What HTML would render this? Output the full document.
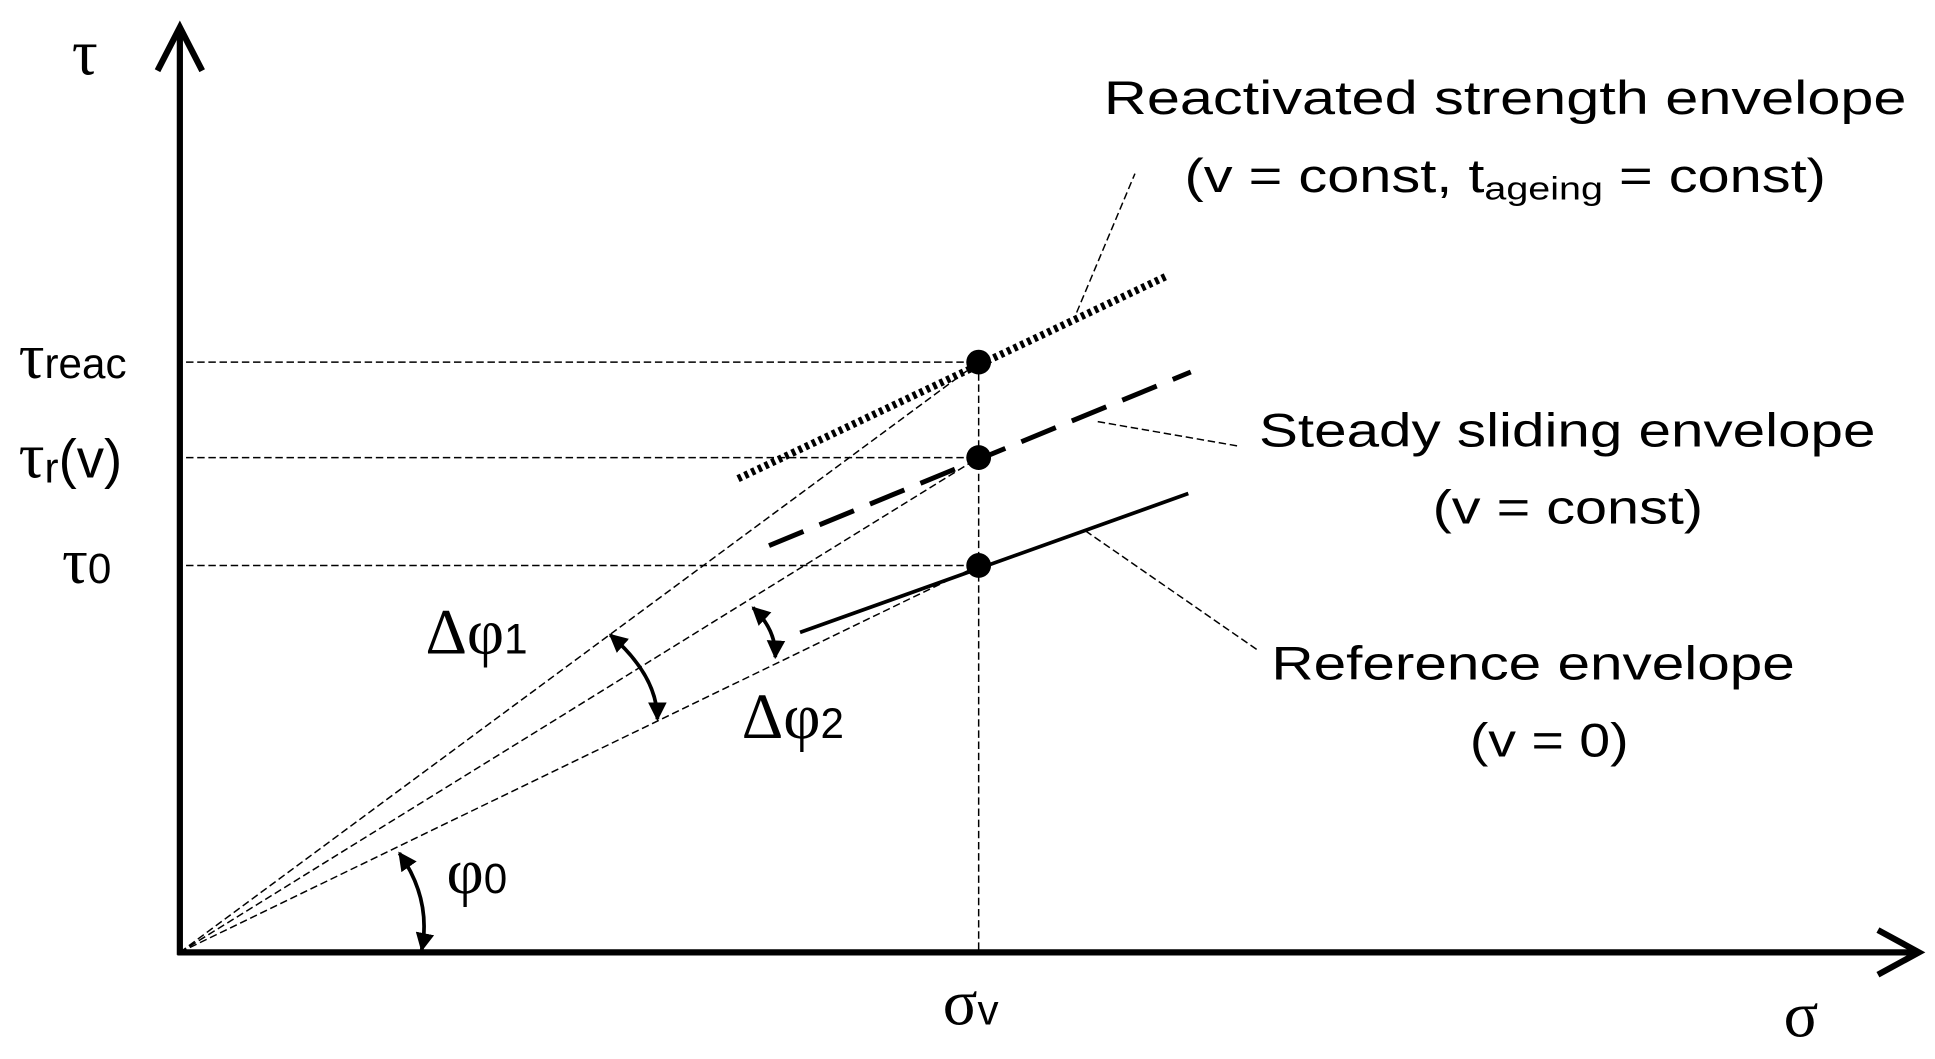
<!DOCTYPE html>
<html><head><meta charset="utf-8"><style>html,body{margin:0;padding:0;background:#fff}svg{display:block}</style></head>
<body>
<svg width="1935" height="1059" viewBox="0 0 1560 854" preserveAspectRatio="none" xmlns="http://www.w3.org/2000/svg" font-family="Liberation Sans, sans-serif">
<defs>
<marker id="ah" viewBox="0 0 10 10" refX="9" refY="5" markerWidth="5" markerHeight="5" orient="auto-start-reverse"><path d="M0,0 L10,5 L0,10 z" fill="#000"/></marker>
</defs>
<line x1="145" y1="22" x2="145" y2="770" stroke="#000" stroke-width="5"/>
<line x1="143" y1="768" x2="1546" y2="768" stroke="#000" stroke-width="5"/>
<polyline points="127,57 145,22 163,57" fill="none" stroke="#000" stroke-width="5"/>
<polyline points="1514,750 1547,768 1514,786" fill="none" stroke="#000" stroke-width="5"/>
<g stroke="#000" stroke-width="1.2" stroke-dasharray="6 3" fill="none">
<line x1="150" y1="292" x2="789" y2="292"/>
<line x1="150" y1="369" x2="789" y2="369"/>
<line x1="150" y1="456" x2="789" y2="456"/>
<line x1="789" y1="292" x2="789" y2="768"/>
<line x1="145" y1="768" x2="789" y2="292"/>
<line x1="145" y1="768" x2="789" y2="369"/>
<line x1="145" y1="768" x2="789" y2="456"/>
<line x1="868" y1="252" x2="915" y2="140"/>
<line x1="885" y1="340" x2="1000" y2="360"/>
<line x1="875" y1="428" x2="1015" y2="525"/>
</g>
<line x1="595" y1="386" x2="942" y2="222" stroke="#000" stroke-width="6" stroke-dasharray="3 3"/>
<line x1="620" y1="440" x2="960" y2="300" stroke="#000" stroke-width="4" stroke-dasharray="30 14"/>
<line x1="645" y1="510" x2="958" y2="398" stroke="#000" stroke-width="3"/>
<circle cx="789" cy="292" r="10"/><circle cx="789" cy="369" r="10"/><circle cx="789" cy="456" r="10"/>
<g fill="none" stroke="#000" stroke-width="3" marker-start="url(#ah)" marker-end="url(#ah)">
<path d="M322,688 Q348,725 340,766"/>
<path d="M492,512 Q530,545 530,580"/>
<path d="M607,490 Q626,508 625,530"/>
</g>
<g font-size="52" font-family="Liberation Serif, serif">
<text x="58" y="60">τ</text>
<text x="1438" y="836">σ</text>
<text x="15" y="305">τ<tspan font-size="34" font-family="Liberation Sans, sans-serif">reac</tspan></text>
<text x="15" y="385">τ<tspan font-size="34" dy="4" font-family="Liberation Sans, sans-serif">r</tspan><tspan dy="-4" font-family="Liberation Sans, sans-serif" font-size="44">(v)</tspan></text>
<text x="50" y="470">τ<tspan font-size="34" font-family="Liberation Sans, sans-serif">0</tspan></text>
<text x="343" y="527">Δφ<tspan font-size="34" font-family="Liberation Sans, sans-serif">1</tspan></text>
<text x="598" y="595">Δφ<tspan font-size="34" font-family="Liberation Sans, sans-serif">2</tspan></text>
<text x="360" y="720">φ<tspan font-size="34" font-family="Liberation Sans, sans-serif">0</tspan></text>
<text x="760" y="826">σ<tspan font-size="34" font-family="Liberation Sans, sans-serif">v</tspan></text>
</g>
<g font-size="38">
<text x="890" y="92" textLength="647" lengthAdjust="spacingAndGlyphs">Reactivated strength envelope</text>
<text x="955" y="155" textLength="517" lengthAdjust="spacingAndGlyphs">(v = const, t<tspan font-size="26" dy="6">ageing</tspan><tspan dy="-6"> = const)</tspan></text>
<text x="1015" y="360" textLength="497" lengthAdjust="spacingAndGlyphs">Steady sliding envelope</text>
<text x="1155" y="422" textLength="218" lengthAdjust="spacingAndGlyphs">(v = const)</text>
<text x="1025" y="548" textLength="422" lengthAdjust="spacingAndGlyphs">Reference envelope</text>
<text x="1185" y="610" textLength="128" lengthAdjust="spacingAndGlyphs">(v = 0)</text>
</g>
</svg>
</body></html>
